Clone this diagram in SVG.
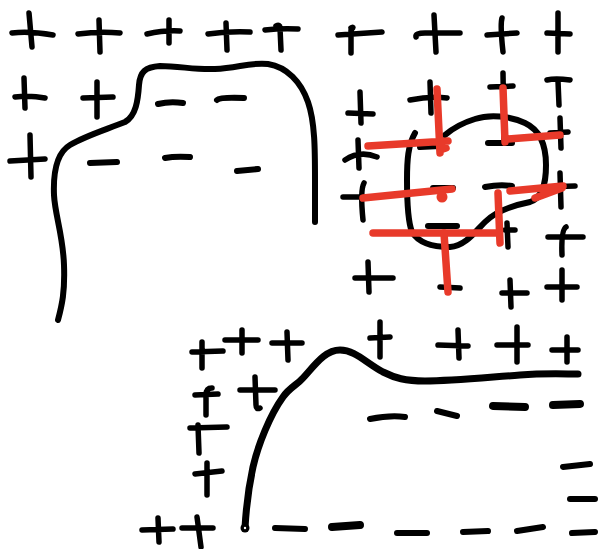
<svg xmlns="http://www.w3.org/2000/svg" width="602" height="549" viewBox="0 0 602 549">
<style>
.k{fill:none;stroke:#000;stroke-linecap:round;stroke-linejoin:round;stroke-width:5.5}
.c{fill:none;stroke:#000;stroke-linecap:round;stroke-linejoin:round;stroke-width:6}
.cb{fill:none;stroke:#000;stroke-linecap:round;stroke-linejoin:round;stroke-width:7}
.d{fill:none;stroke:#000;stroke-linecap:round;stroke-width:6}
.t{fill:none;stroke:#000;stroke-linecap:round;stroke-width:8}
.r{fill:none;stroke:#e83a2a;stroke-linecap:round;stroke-linejoin:round;stroke-width:7.5}
</style>
<rect width="602" height="549" fill="#fff"/>
<g id="top-left">
<path class="c" d="M58,320 C62,305 65,292 64,265 C63,235 55,215 54,195 C53,170 58,152 70,145 C85,136 105,130 125,122 C136,116 138,100 139,85 C140,72 145,67 160,66 C180,66 195,70 215,69 C238,68 250,62 268,64 C287,67 301,82 308,102 C315,122 315,150 315,180 L315,222"/>
<path class="k" d="M12,33 Q30,31 53,35 M29,13 L32,47"/>
<path class="k" d="M78,34 Q100,31 120,33 M99,20 L100,52"/>
<path class="k" d="M147,34 Q165,30 180,31 M169,20 L169,43"/>
<path class="k" d="M208,34 Q230,31 250,32 M226,23 L227,50"/>
<path class="k" d="M265,30 Q282,28 298,29 M276,26 Q280,24 280,28 L281,50"/>
<path class="k" d="M15,97 Q30,95 45,98 M24,78 L25,108"/>
<path class="k" d="M83,98 L113,97 M97,82 L97,117"/>
<path class="d" d="M158,104 Q170,101 183,103"/>
<path class="d" d="M217,100 Q220,97 244,98"/>
<path class="k" d="M10,161 L45,159 M30,135 L31,177"/>
<path class="d" d="M90,163 L117,162"/>
<path class="d" d="M165,158 Q175,156 190,157"/>
<path class="d" d="M237,171 L258,169"/>
</g>
<g id="top-right">
<path class="k" d="M338,35 L382,32 M351,28 Q355,26 351,30 L351,53"/>
<path class="k" d="M416,37 Q415,33 425,33 L460,33 M434,15 L436,52"/>
<path class="k" d="M487,35 L517,33 M502,18 Q500,25 503,52"/>
<path class="k" d="M547,33 L570,34 M558,13 L558,52"/>
<path class="k" d="M348,113 L373,114 M360,92 L361,123"/>
<path class="k" d="M410,100 Q430,96 447,98 M430,82 L431,113"/>
<path class="k" d="M490,87 L513,86 M503,73 L504,142"/>
<path class="k" d="M547,80 Q555,78 570,80 M558,81 L559,105"/>
<path class="k" d="M345,160 Q360,150 377,157 M358,140 L359,168"/>
<path class="k" d="M343,197 L367,197 M364,183 Q360,190 363,220"/>
<path class="k" d="M550,133 L568,132 M560,118 L561,148"/>
<path class="k" d="M543,187 L575,186 M560,173 L561,207"/>
<path class="k" d="M548,237 L583,237 M566,227 Q561,230 562,255"/>
<path class="k" d="M355,278 L393,278 M368,262 L369,292"/>
<path class="k" d="M440,287 L460,288"/>
<path class="k" d="M502,293 L527,293 M510,280 L511,307"/>
<path class="k" d="M547,287 L577,287 M562,270 L562,300"/>
<path class="k" d="M505,230 L515,230 M507,223 L508,247"/>
<path class="c" d="M415,133 C408,145 407,160 407,180 C407,205 408,222 412,232 C418,242 430,247 450,247 C465,246 475,232 485,222 C495,212 510,206 530,202 C542,198 546,185 546,165 C546,145 540,130 525,123 C510,116 490,114 475,119 C462,123 452,129 445,135"/>
<path class="d" d="M488,143 L512,143"/>
<path class="d" d="M485,187 Q500,184 512,186"/>
<path class="d" d="M428,226 L457,226"/>
<path class="d" d="M420,147 L440,146"/>
<path class="d" d="M433,188 L453,188"/>
</g>
<g id="red-marks">
<path class="r" d="M368,146 L448,141 M437,89 L440,153 M440,150 L446,148"/>
<path class="r" d="M503,88 L505,142 M508,139 L560,135"/>
<path class="r" d="M363,198 L452,189"/>
<circle cx="442" cy="197" r="5.5" fill="#e83a2a"/>
<path class="r" d="M510,191 L563,186 M535,198 L562,188"/>
<path class="r" d="M373,233 L498,233 M498,193 L500,243"/>
<path class="r" d="M444,233 L448,292"/>
</g>
<g id="bottom">
<path class="cb" d="M245,528 C246,510 248,490 253,467 C258,445 270,415 283,397 C290,387 297,385 303,378 C315,365 325,350 340,350 C355,350 365,362 383,372 C395,378 405,381 425,381 C450,381 480,378 520,375 C545,373 565,374 578,374"/>
<circle cx="245" cy="528" r="4.5" fill="#000"/>
<circle cx="245" cy="528" r="1.2" fill="#fff"/>
<path class="k" d="M192,352 L223,351 M202,342 L202,368"/>
<path class="k" d="M225,340 L258,340 M242,330 L242,353"/>
<path class="k" d="M272,343 L302,343 M287,332 L288,360"/>
<path class="k" d="M370,338 L390,337 M380,322 L380,357"/>
<path class="k" d="M438,345 L468,346 M458,330 L459,358"/>
<path class="k" d="M497,345 L528,345 M517,327 L517,362"/>
<path class="k" d="M552,350 L578,350 M567,337 L567,362"/>
<path class="k" d="M195,395 L218,394 M212,388 Q206,388 206,395 L206,415"/>
<path class="k" d="M240,390 L275,390 M255,377 L256,405 Q256,410 260,408"/>
<path class="k" d="M190,428 L227,427 M198,425 L199,453"/>
<path class="k" d="M195,474 L222,471 M207,463 L207,495"/>
<path class="k" d="M142,530 L173,529 M158,518 L159,542"/>
<path class="k" d="M182,528 L213,528 M197,517 L201,547"/>
<path class="d" d="M370,419 Q390,415 405,417"/>
<path class="d" d="M437,411 L457,416"/>
<path class="t" d="M493,406 L525,407"/>
<path class="t" d="M553,405 L580,404"/>
<path class="d" d="M563,467 L590,464"/>
<path class="d" d="M570,499 L595,499"/>
<path class="d" d="M275,528 L305,529"/>
<path class="t" d="M332,527 L360,525"/>
<path class="d" d="M397,533 L427,533"/>
<path class="d" d="M463,532 L488,531"/>
<path class="d" d="M517,531 L543,527"/>
<path class="d" d="M572,533 L595,532"/>
</g>
</svg>
